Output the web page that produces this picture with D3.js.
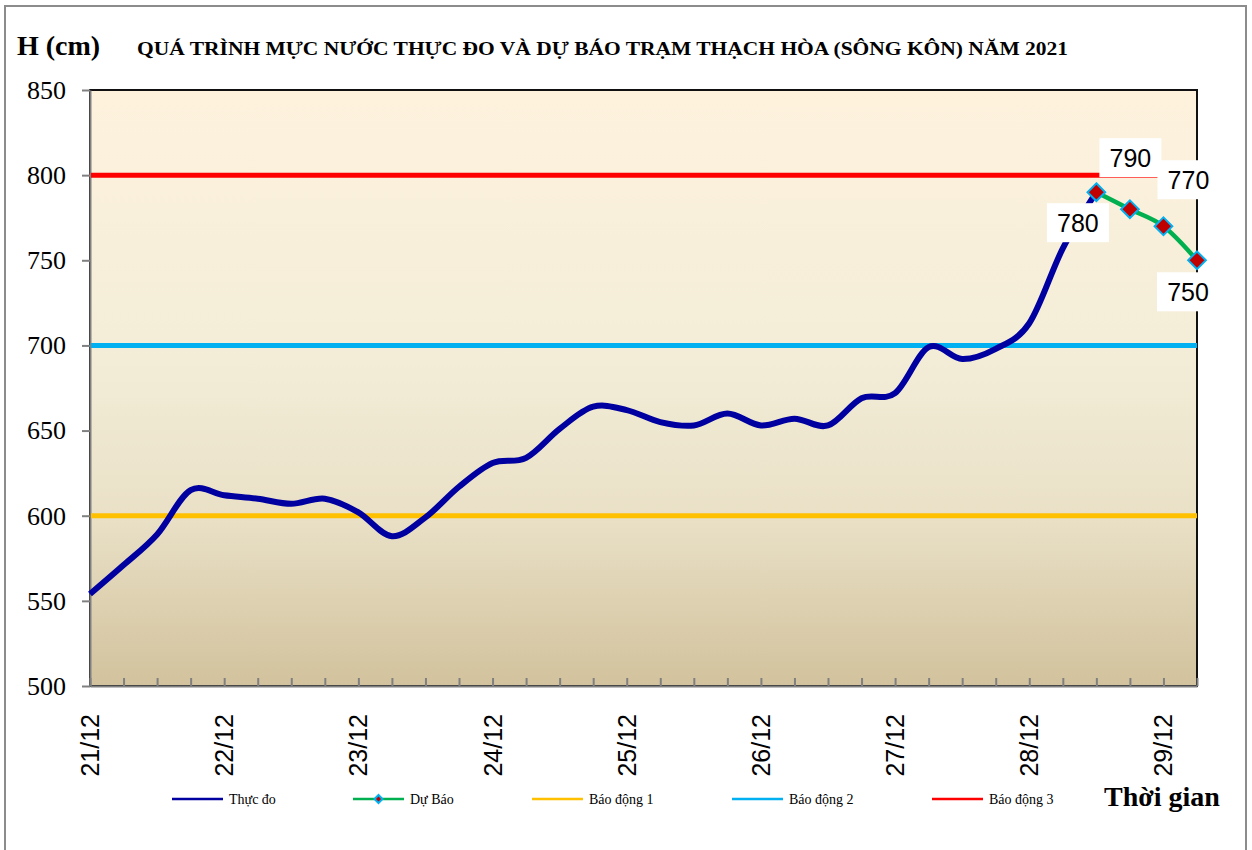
<!DOCTYPE html>
<html>
<head>
<meta charset="utf-8">
<script src="https://cdn.jsdelivr.net/npm/d3@7"></script>
<style>
  body { margin: 0; background: #fff; }
  svg { display: block; }
</style>
</head>
<body>
<div id="chart"></div>
<script>
// data, 6-hour steps from 21/12 00h
var tickLabels = ["21/12", "22/12", "23/12", "24/12", "25/12", "26/12", "27/12", "28/12", "29/12"];
var stepsPerDay = 4;
var nSteps = 33;

var measured = [554, 571, 589, 615, 612, 610, 607, 610, 602, 588, 599, 617, 631, 634, 651, 664,
                662, 655, 653, 660, 653, 657, 653, 669, 672, 699, 692, 698, 713, 757, 790];
var forecastStart = 30;
var forecast = [790, 780, 770, 750];

var alertNames = ["Báo động 1", "Báo động 2", "Báo động 3"];
var alertLevels = [600, 700, 800];
var alertColors = ["#FFC000", "#00B0F0", "#FF0000"];

var yTicks = [500, 550, 600, 650, 700, 750, 800, 850];

// where each forecast label sits relative to its point (px)
var labelOffsets = [[34, -34], [-52, 14], [25, -46], [-9, 32]];

var W = 1252, H = 850;
var plot = {left: 90, top: 90, right: 1197, bottom: 686};

var svg = d3.select("#chart").append("svg")
    .attr("width", W)
    .attr("height", H);

// outer frame
svg.append("rect")
    .attr("x", 5).attr("y", 6)
    .attr("width", 1241).attr("height", 850)
    .attr("fill", "#fff")
    .attr("stroke", "#8c8c8c")
    .attr("stroke-width", 2);

var x = d3.scaleLinear().domain([0, nSteps]).range([plot.left, plot.right]);
var y = d3.scaleLinear().domain([500, 850]).range([plot.bottom, plot.top]);

// plot background gradient
var grad = svg.append("defs").append("linearGradient")
    .attr("id", "bg").attr("x1", 0).attr("y1", 0).attr("x2", 0).attr("y2", 1);
grad.append("stop").attr("offset", "0%").attr("stop-color", "#FEF2DD");
grad.append("stop").attr("offset", "45%").attr("stop-color", "#F3EDD8");
grad.append("stop").attr("offset", "72%").attr("stop-color", "#E9E0C6");
grad.append("stop").attr("offset", "100%").attr("stop-color", "#D2C29D");

svg.append("rect")
    .attr("x", plot.left).attr("y", plot.top)
    .attr("width", plot.right - plot.left)
    .attr("height", plot.bottom - plot.top)
    .attr("fill", "url(#bg)")
    .attr("stroke", "#111")
    .attr("stroke-width", 2);

// title + axis titles
svg.append("text")
    .attr("x", 17).attr("y", 55)
    .attr("font-family", "Liberation Serif, Times New Roman, serif")
    .attr("font-weight", "bold")
    .attr("font-size", "28px")
    .text("H (cm)");

svg.append("text")
    .attr("x", 137).attr("y", 55)
    .attr("font-family", "Liberation Serif, Times New Roman, serif")
    .attr("font-weight", "bold")
    .attr("font-size", "18px")
    .attr("textLength", 931)
    .attr("lengthAdjust", "spacingAndGlyphs")
    .text("QUÁ TRÌNH MỰC NƯỚC THỰC ĐO VÀ DỰ BÁO TRẠM THẠCH HÒA (SÔNG KÔN) NĂM 2021");

svg.append("text")
    .attr("x", 1104).attr("y", 806)
    .attr("font-family", "Liberation Serif, Times New Roman, serif")
    .attr("font-weight", "bold")
    .attr("font-size", "28px")
    .text("Thời gian");

// Y axis
var yAxis = svg.append("g")
    .attr("transform", "translate(" + plot.left + ",0)")
    .call(d3.axisLeft(y).tickValues(yTicks).tickSize(8).tickPadding(16).tickSizeOuter(0));
yAxis.select(".domain").attr("stroke", "#808080").attr("stroke-width", 2);
yAxis.selectAll(".tick line").attr("stroke", "#808080").attr("stroke-width", 2);
yAxis.selectAll(".tick text")
    .attr("font-family", "Liberation Serif, Times New Roman, serif")
    .attr("font-size", "26px")
    .attr("fill", "#000");

// X axis, ticks pointing inward
var xAxis = svg.append("g")
    .attr("transform", "translate(0," + plot.bottom + ")")
    .call(d3.axisBottom(x).tickValues(d3.range(0, nSteps + 1)).tickSize(-8).tickSizeOuter(0).tickFormat(""));
xAxis.select(".domain").attr("stroke", "#808080").attr("stroke-width", 2);
xAxis.selectAll(".tick line").attr("stroke", "#808080").attr("stroke-width", 2);

svg.append("g").selectAll("text")
    .data(tickLabels)
    .enter().append("text")
    .attr("transform", function(d, i) {
        return "translate(" + x(i * stepsPerDay) + ",714) rotate(-90)";
    })
    .attr("text-anchor", "end")
    .attr("dy", "0.36em")
    .attr("font-family", "Liberation Sans, Arial, sans-serif")
    .attr("font-size", "25px")
    .attr("fill", "#000")
    .text(function(d) { return d; });

// alert levels
svg.append("g").selectAll("line")
    .data(alertLevels)
    .enter().append("line")
    .attr("x1", plot.left + 1).attr("x2", plot.right)
    .attr("y1", function(d) { return y(d); })
    .attr("y2", function(d) { return y(d); })
    .attr("stroke", function(d, i) { return alertColors[i]; })
    .attr("stroke-width", 5);

// measured
var line = d3.line()
    .x(function(d, i) { return x(i); })
    .y(function(d) { return y(d); })
    .curve(d3.curveCatmullRom.alpha(0));

svg.append("path")
    .datum(measured)
    .attr("d", line)
    .attr("fill", "none")
    .attr("stroke", "#0000A0")
    .attr("stroke-width", 6)
    .attr("stroke-linejoin", "round");

// forecast
var fline = d3.line()
    .x(function(d, i) { return x(forecastStart + i); })
    .y(function(d) { return y(d); })
    .curve(d3.curveCatmullRom.alpha(0));

svg.append("path")
    .datum(forecast)
    .attr("d", fline)
    .attr("fill", "none")
    .attr("stroke", "#00B050")
    .attr("stroke-width", 4.5);

var diamond = d3.symbol().type(d3.symbolDiamond2).size(200);

svg.append("g").selectAll("path")
    .data(forecast)
    .enter().append("path")
    .attr("d", diamond)
    .attr("transform", function(d, i) {
        return "translate(" + x(forecastStart + i) + "," + y(d) + ")";
    })
    .attr("fill", "#C00000")
    .attr("stroke", "#00B0F0")
    .attr("stroke-width", 2);

// forecast labels on white boxes
var lab = svg.append("g").selectAll("g")
    .data(forecast)
    .enter().append("g")
    .attr("transform", function(d, i) {
        var cx = x(forecastStart + i) + labelOffsets[i][0];
        var cy = y(d) + labelOffsets[i][1];
        return "translate(" + cx + "," + cy + ")";
    });
lab.append("rect")
    .attr("x", -31).attr("y", -20)
    .attr("width", 62).attr("height", 39)
    .attr("fill", "#fff");
lab.append("text")
    .attr("text-anchor", "middle")
    .attr("dy", "0.36em")
    .attr("font-family", "Liberation Sans, Arial, sans-serif")
    .attr("font-size", "25px")
    .attr("fill", "#000")
    .text(function(d) { return d; });

// legend
var legendItems = [
    {name: "Thực đo", color: "#0000A0", marker: false},
    {name: "Dự Báo", color: "#00B050", marker: true}
].concat(alertNames.map(function(n, i) {
    return {name: n, color: alertColors[i], marker: false};
}));
var legendX = [172, 353, 532, 732, 932];

var leg = svg.append("g").selectAll("g")
    .data(legendItems)
    .enter().append("g")
    .attr("transform", function(d, i) { return "translate(" + legendX[i] + ",799)"; });
leg.append("line")
    .attr("x1", 0).attr("x2", 51)
    .attr("stroke", function(d) { return d.color; })
    .attr("stroke-width", 2.5);
leg.filter(function(d) { return d.marker; })
    .append("path")
    .attr("d", d3.symbol().type(d3.symbolDiamond2).size(40))
    .attr("transform", "translate(25.5,0)")
    .attr("fill", "#C00000")
    .attr("stroke", "#00B0F0")
    .attr("stroke-width", 2);
leg.append("text")
    .attr("x", 57)
    .attr("dy", "0.35em")
    .attr("font-family", "Liberation Serif, Times New Roman, serif")
    .attr("font-size", "14px")
    .attr("fill", "#000")
    .text(function(d) { return d.name; });
</script>
</body>
</html>
